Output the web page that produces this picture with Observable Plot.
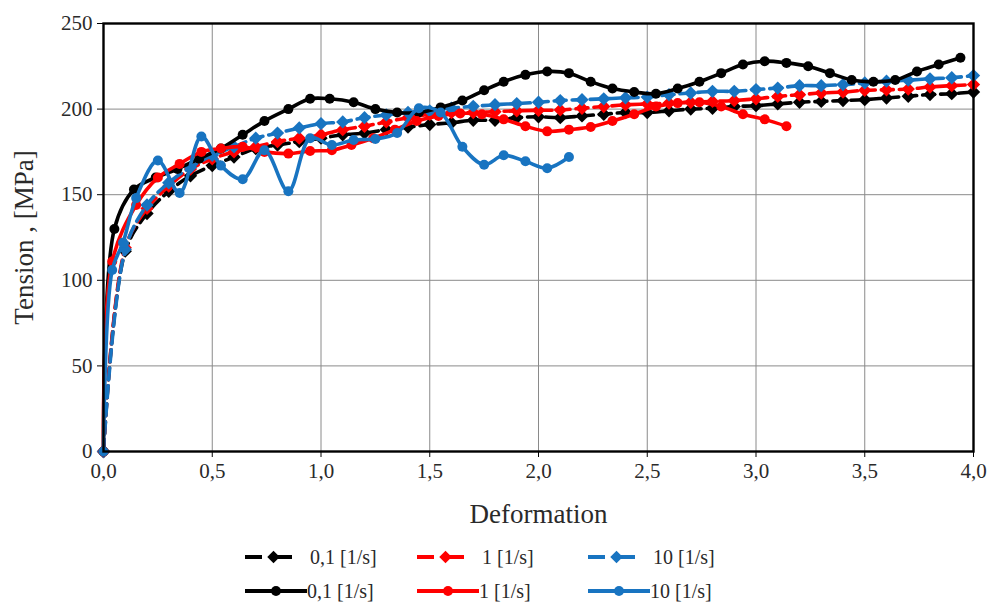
<!DOCTYPE html>
<html><head><meta charset="utf-8">
<script src="https://cdn.jsdelivr.net/npm/d3@7"></script>
<script src="https://cdn.jsdelivr.net/npm/@observablehq/plot@0.6"></script>
<style>
body{margin:0;background:#fff;font-family:"Liberation Serif","Times New Roman",serif;}
#wrap{position:relative;width:989px;height:604px;overflow:hidden;}
#chart svg, #chart svg text{font-family:"Liberation Serif","Times New Roman",serif !important;}
#chart [aria-label="x-axis label"] text,#chart [aria-label="y-axis label"] text{font-size:27px;}
.leg{position:absolute;display:flex;align-items:center;height:24px;font-size:20px;color:#2a2a2a;white-space:nowrap;}
.leg svg{display:block;}
</style></head><body><div id="wrap"><div id="chart"></div><div id="legend"></div></div>
<script>
// x positions of the dashed (diamond) series
const dashX = [0,0.1,0.2,0.3,0.4,0.5,0.6,0.7,0.8,0.9,1.0,1.1,1.2,1.3,1.4,1.5,1.6,1.7,1.8,1.9,2.0,2.1,2.2,2.3,2.4,2.5,2.6,2.7,2.8,2.9,3.0,3.1,3.2,3.3,3.4,3.5,3.6,3.7,3.8,3.9,4.0];
const dash01 = [0,117,139,152,161,167,172,177,179,181,183,185,186,188,189.5,191,192,193.5,193.5,195,195.5,195,196,197,198,198,199,200,200.5,201.5,202,203,204,204.5,205,205.5,206.5,207.5,208.5,209,210];
const dash1 = [0,119,142,155,165,171,175,178,181,183,185,188,190,192.5,195,197,198,198,198.5,199,199.3,199.5,200.5,201.5,202.5,203,203.5,204,204.5,205,206,207.4,208.4,209.4,210,211,211.3,211.7,212.9,213.7,214.3];
const dash10 = [0,118,144,157,166,173,178,183,186,189,191.5,192.5,195,196.6,198,199,200.5,201.6,202.6,203.2,204,205,205.5,206,206.6,207,208.4,209.4,210.4,210.4,211.4,212.3,213.7,213.7,214.3,215.3,216.3,216.9,217.7,218.3,219.6];

// solid (circle) series
const solid01X = [0,0.05,0.14,0.24,0.34,0.44,0.54,0.64,0.74,0.85,0.95,1.04,1.15,1.25,1.35,1.45,1.55,1.65,1.75,1.84,1.94,2.04,2.14,2.24,2.34,2.44,2.54,2.64,2.74,2.84,2.94,3.04,3.14,3.24,3.34,3.44,3.54,3.64,3.74,3.84,3.94];
const solid01 = [0,130,153,160,165,171,177,185,193,200,206,206,204,200,198,198,201,205,211,216,220,222,221,216,212,210,209,212,216,221,226,228,227,225,221,217,216,217,222,226,230];
const solid1X = [0,0.04,0.15,0.25,0.35,0.45,0.54,0.64,0.74,0.85,0.95,1.05,1.14,1.24,1.34,1.44,1.54,1.64,1.74,1.84,1.94,2.04,2.14,2.24,2.34,2.44,2.54,2.64,2.74,2.84,2.94,3.04,3.14];
const solid1 = [0,111,144,160,168,175,177,178,175,174,175.5,176,179,183,188,193,196,197.5,197,194,190,187,188,189.5,193,197,201.5,203.5,204,201.5,197,194,190];
const solid10X = [0,0.04,0.09,0.15,0.25,0.35,0.45,0.54,0.64,0.74,0.85,0.95,1.05,1.15,1.25,1.35,1.45,1.55,1.65,1.75,1.84,1.94,2.04,2.14];
const solid10 = [0,106,122,148,170,151,184,167,159,176,152,183,179,182,182.5,186,200.5,198,178,167.5,173,169.5,165.5,172];

const xTicks = [0,0.5,1,1.5,2,2.5,3,3.5,4];
const yTicks = [0,50,100,150,200,250];
const seriesNames = ["0,1 [1/s]","1 [1/s]","10 [1/s]","0,1 [1/s]","1 [1/s]","10 [1/s]"];
const seriesColors = ["#000000","#ff0000","#1874c1","#000000","#ff0000","#1874c1"];

const series = [
  {x: dashX, y: dash01, dashed: true},
  {x: dashX, y: dash1, dashed: true},
  {x: dashX, y: dash10, dashed: true},
  {x: solid01X, y: solid01, dashed: false},
  {x: solid1X, y: solid1, dashed: false},
  {x: solid10X, y: solid10, dashed: false}
].map((s, i) => ({...s, name: seriesNames[i], color: seriesColors[i],
  rows: s.x.map((xv, j) => ({x: xv, y: s.y[j]}))}));

const fmt = d => d.toFixed(1).replace(".", ",");

const marks = [
  Plot.gridX(xTicks, {stroke: "#8a8a8a", strokeOpacity: 1, strokeWidth: 1}),
  Plot.gridY(yTicks, {stroke: "#8a8a8a", strokeOpacity: 1, strokeWidth: 1}),
  Plot.axisX(xTicks, {tickFormat: fmt, tickSize: 6, tickPadding: 6, fontSize: 21,
    label: "Deformation", labelAnchor: "center", labelArrow: "none", labelOffset: 71, stroke: "#000", fill: "#2a2a2a"}),
  Plot.axisY(yTicks, {tickSize: 6, tickPadding: 5, fontSize: 21,
    label: "Tension , [MPa]", labelAnchor: "center", labelArrow: "none", labelOffset: 90, stroke: "#000", fill: "#2a2a2a"})
];
for (const s of series) {
  marks.push(Plot.line(s.rows, {x: "x", y: "y", stroke: s.color, strokeWidth: 3.6,
    strokeDasharray: s.dashed ? "12,6" : null, curve: "catmull-rom"}));
  marks.push(Plot.dot(s.rows, {x: "x", y: "y", fill: s.color, stroke: "none",
    r: s.dashed ? 6 : 5, symbol: s.dashed ? "diamond2" : "circle"}));
}
marks.push(Plot.frame({stroke: "#000", strokeWidth: 2.4}));

const chart = Plot.plot({
  width: 989, height: 530,
  marginLeft: 103, marginRight: 16, marginTop: 23, marginBottom: 79,
  style: {fontFamily: '"Liberation Serif","Times New Roman",serif', color: "#2a2a2a", background: "#fff"},
  x: {domain: [0, 4]},
  y: {domain: [0, 250]},
  marks
});
document.getElementById("chart").appendChild(chart);

// legend
const legend = document.getElementById("legend");
const colLeft = [245, 417, 588];
const rowTop = [545, 579];
series.forEach((s, i) => {
  const col = i % 3, row = Math.floor(i / 3);
  const div = document.createElement("div");
  div.className = "leg";
  div.style.left = colLeft[col] + "px";
  div.style.top = rowTop[row] + "px";
  const w = s.dashed ? 47 : 62;
  const svg = d3.create("svg").attr("width", w).attr("height", 24);
  if (s.dashed) {
    svg.append("line").attr("x1", 0).attr("x2", w).attr("y1", 12).attr("y2", 12)
      .attr("stroke", s.color).attr("stroke-width", 4).attr("stroke-dasharray", "17,13");
    svg.append("path").attr("d", d3.symbol(d3.symbolDiamond2, 100)()).attr("transform", `translate(${w/2+5},12)`).attr("fill", s.color);
  } else {
    svg.append("line").attr("x1", 0).attr("x2", w).attr("y1", 12).attr("y2", 12)
      .attr("stroke", s.color).attr("stroke-width", 4);
    svg.append("circle").attr("cx", w/2).attr("cy", 12).attr("r", 5).attr("fill", s.color);
  }
  div.appendChild(svg.node());
  const t = document.createElement("span");
  t.textContent = s.name;
  t.style.marginLeft = s.dashed ? "18px" : "0px";
  div.appendChild(t);
  legend.appendChild(div);
});
</script></body></html>
